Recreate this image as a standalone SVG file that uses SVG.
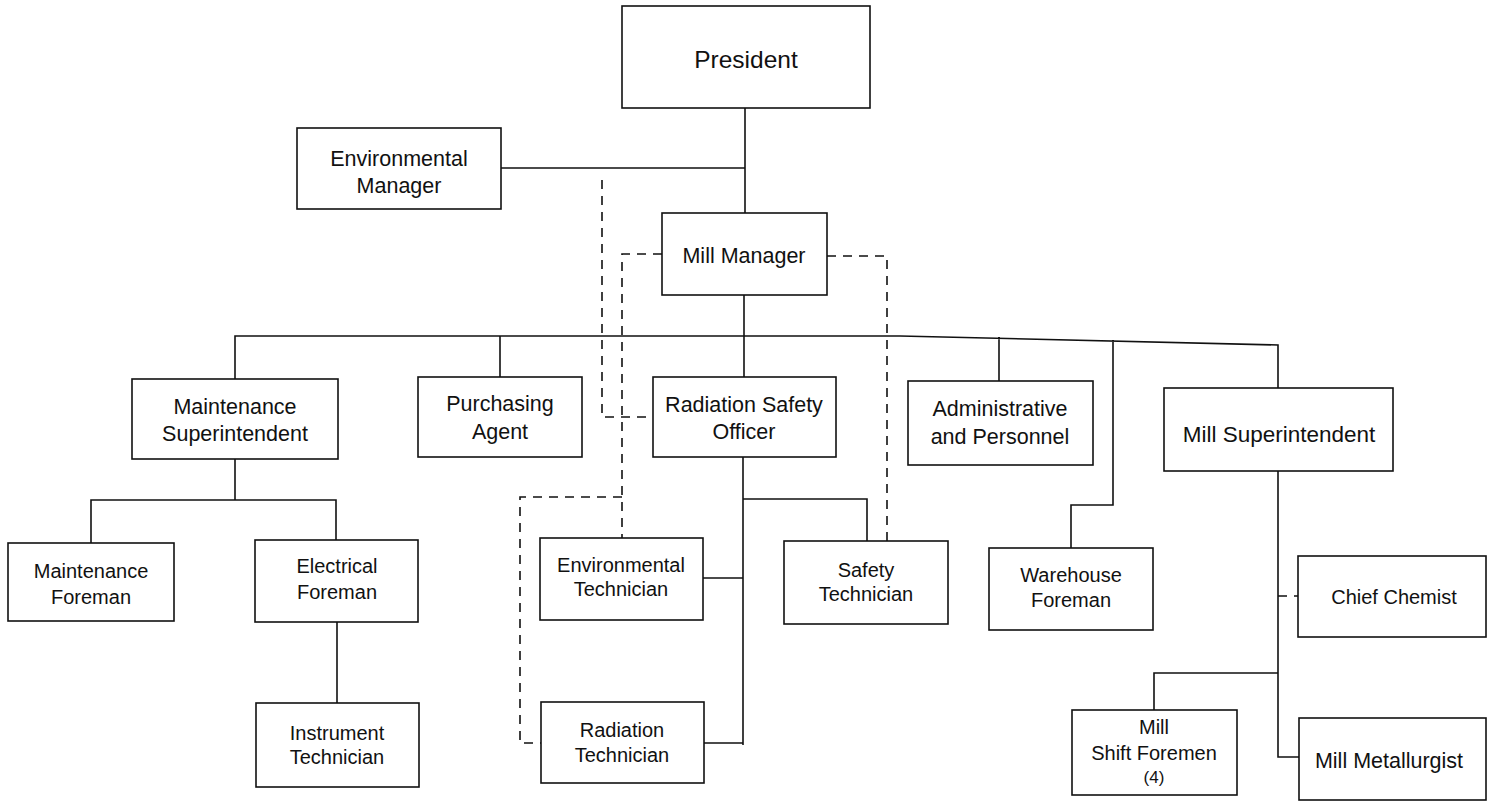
<svg xmlns="http://www.w3.org/2000/svg" width="1487" height="804" viewBox="0 0 1487 804">
<style>
.box{fill:#fff;stroke:#111;stroke-width:1.6}
.t{font-family:"Liberation Sans",Arial,sans-serif;font-size:21.5px;fill:#111;text-anchor:middle}
.s{font-size:20px}
.c{fill:none;stroke:#111;stroke-width:1.6}
.d{fill:none;stroke:#111;stroke-width:1.6;stroke-dasharray:9,7}
</style>
<rect width="1487" height="804" fill="#fff"/>
<g id="connectors">
<path class="c" d="M745 108V213M501 168H745M744 295V377"/>
<path class="c" d="M235 380V336H900L1278 345V388M500 336V377M999 337V381M1113 340V505H1071V548"/>
<path class="c" d="M235 459V500M91 543V500H336V540M337 622V703"/>
<path class="c" d="M743 457V745M743 499H867V541M703 578H743M704 743H743"/>
<path class="c" d="M1278 471V757H1299M1278 673H1154V711"/>
<path class="d" d="M1278 596H1298"/>
<path class="d" d="M602 180V417H653"/>
<path class="d" d="M662 254H622V538M622 497H520V743H541"/>
<path class="d" d="M827 256H887V541"/>
</g>
<g id="president"><rect class="box" x="622" y="6" width="248" height="102"/><text class="t" x="746" y="68" style="font-size:24.5px">President</text></g>
<g id="env-manager"><rect class="box" x="297" y="128" width="204" height="81"/><text class="t" x="399" y="166">Environmental</text><text class="t" x="399" y="193">Manager</text></g>
<g id="mill-manager"><rect class="box" x="662" y="213" width="165" height="82"/><text class="t" x="744" y="263">Mill Manager</text></g>
<g id="maint-sup"><rect class="box" x="132" y="379" width="206" height="80"/><text class="t" x="235" y="414">Maintenance</text><text class="t" x="235" y="441">Superintendent</text></g>
<g id="purchasing"><rect class="box" x="418" y="377" width="164" height="80"/><text class="t" x="500" y="411">Purchasing</text><text class="t" x="500" y="439">Agent</text></g>
<g id="rso"><rect class="box" x="653" y="377" width="183" height="80"/><text class="t" x="744" y="412">Radiation Safety</text><text class="t" x="744" y="439">Officer</text></g>
<g id="admin"><rect class="box" x="908" y="381" width="185" height="84"/><text class="t" x="1000" y="416">Administrative</text><text class="t" x="1000" y="444">and Personnel</text></g>
<g id="mill-sup"><rect class="box" x="1164" y="388" width="229" height="83"/><text class="t" x="1279" y="442" style="font-size:22.5px">Mill Superintendent</text></g>
<g id="maint-foreman"><rect class="box" x="8" y="543" width="166" height="78"/><text class="t s" x="91" y="578">Maintenance</text><text class="t s" x="91" y="604">Foreman</text></g>
<g id="elec-foreman"><rect class="box" x="255" y="540" width="163" height="82"/><text class="t s" x="337" y="573">Electrical</text><text class="t s" x="337" y="599">Foreman</text></g>
<g id="instrument-tech"><rect class="box" x="256" y="703" width="163" height="84"/><text class="t s" x="337" y="740">Instrument</text><text class="t s" x="337" y="764">Technician</text></g>
<g id="env-tech"><rect class="box" x="540" y="538" width="163" height="82"/><text class="t s" x="621" y="572">Environmental</text><text class="t s" x="621" y="596">Technician</text></g>
<g id="safety-tech"><rect class="box" x="784" y="541" width="164" height="83"/><text class="t s" x="866" y="577">Safety</text><text class="t s" x="866" y="601">Technician</text></g>
<g id="rad-tech"><rect class="box" x="541" y="702" width="163" height="81"/><text class="t s" x="622" y="737">Radiation</text><text class="t s" x="622" y="762">Technician</text></g>
<g id="warehouse"><rect class="box" x="989" y="548" width="164" height="82"/><text class="t s" x="1071" y="582">Warehouse</text><text class="t s" x="1071" y="607">Foreman</text></g>
<g id="chief-chemist"><rect class="box" x="1298" y="556" width="188" height="81"/><text class="t s" x="1394" y="604">Chief Chemist</text></g>
<g id="shift-foremen"><rect class="box" x="1072" y="710" width="165" height="85"/><text class="t s" x="1154" y="734">Mill</text><text class="t s" x="1154" y="760">Shift Foremen</text><text class="t" x="1154" y="783" style="font-size:17px">(4)</text></g>
<g id="metallurgist"><rect class="box" x="1299" y="718" width="187" height="82"/><text class="t" x="1389" y="768">Mill Metallurgist</text></g>
</svg>
